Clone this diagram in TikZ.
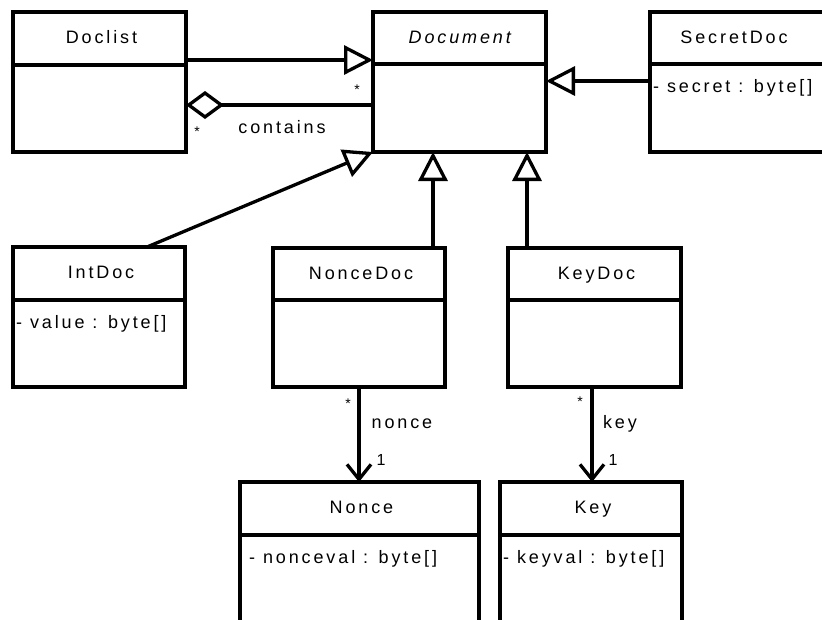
\documentclass[tikz,border=0pt]{standalone}
\usepackage{fontspec}
\setmainfont{Liberation Sans}[LetterSpace=16]
\usetikzlibrary{arrows.meta}
\tikzset{
  x=1pt, y=-1pt,
  umlline/.style={line width=3.3pt},
  classbox/.style={draw, line width=3.3pt, inner sep=0pt, outer sep=0pt, anchor=north west},
  classtitle/.style={inner sep=0pt, anchor=base, font=\fontsize{18}{21}\selectfont},
  classattr/.style={inner sep=0pt, anchor=base west, font=\fontsize{18}{21}\selectfont},
  mult/.style={inner sep=0pt, font=\fontsize{14}{16}\selectfont},
  rolelabel/.style={inner sep=0pt, font=\fontsize{18}{21}\selectfont},
  inherit/.style={umlline, -{Triangle[open, length=29pt, width=29pt, line width=3.3pt]}},
  navig/.style={umlline, -{Straight Barb[length=15pt, width=24pt, line width=3.3pt]}},
  aggr/.style={umlline, {Diamond[open, length=38pt, width=28pt, line width=3.3pt]}-},
}
% \umlclass{name}{x1}{y1}{x2}{y2}{divider y}{title}{attribute}
\newcommand{\umlclass}[8]{%
  \node[classbox, minimum width=#4pt-#2pt, minimum height=#5pt-#3pt] (#1) at (#2,#3) {};
  \draw[umlline] (#2,#6) -- (#4,#6);
  \node[classtitle] (#1-title) at ({(#2+#4)/2+2},{(#3+#6)/2+5}) {#7};
  \node[classattr] (#1-attr) at (#2+3,#6+28) {#8};
}
\begin{document}
\begin{tikzpicture}
\useasboundingbox (0,0) rectangle (822,619);
\begin{scope}
\clip (0,0) rectangle (822,619);

\umlclass{doclist}{13}{12}{186}{152}{65}{Doclist}{}
\umlclass{document}{373}{12}{546}{152}{64}{\textit{Document}}{}
\umlclass{secretdoc}{650}{12}{840}{152}{64}{\hspace*{-26pt}SecretDoc}{- secret : byte[]}
\umlclass{intdoc}{13}{247}{185}{387}{300}{IntDoc}{- value : byte[]}
\umlclass{noncedoc}{273}{248}{445}{387}{300}{NonceDoc}{}
\umlclass{keydoc}{508}{248}{681}{387}{300}{KeyDoc}{}
\umlclass{nonce}{240}{482}{479}{680}{535}{Nonce}{\hspace*{6pt}- nonceval : byte[]}
\umlclass{key}{500}{482}{682}{680}{535}{Key}{- keyval : byte[]}

% generalisations
\draw[inherit] (doclist.north east |- 0,60) -- (document.west |- 0,60);
\draw[inherit] (secretdoc.west |- 0,81) -- (document.east |- 0,81);
\draw[inherit] (intdoc.north west -| 147,0) -- (document.south west);
\draw[inherit] (noncedoc.north west -| 433,0) -- (document.south west -| 433,0);
\draw[inherit] (keydoc.north west -| 527,0) -- (document.south west -| 527,0);

% aggregation
\draw[aggr] (doclist.east |- 0,105) -- (document.west |- 0,105);
\node[mult] (m1) at (357,90) {*};
\node[mult] (m2) at (197,132) {*};
\node[rolelabel] (contains) at (282,127) {contains};

% navigable associations
\draw[navig] (noncedoc.south west -| 359,0) -- (nonce.north west -| 359,0);
\draw[navig] (keydoc.south west -| 592,0) -- (key.north west -| 592,0);
\node[mult] (m3) at (348,404) {*};
\node[rolelabel] (noncelbl) at (402,424) {nonce};
\node[rolelabel, font=\fontsize{16}{19}\selectfont] (one1) at (381,460) {1};
\node[mult] (m4) at (580,402) {*};
\node[rolelabel] (keylbl) at (620,424) {key};
\node[rolelabel, font=\fontsize{16}{19}\selectfont] (one2) at (613,460) {1};
\end{scope}
\end{tikzpicture}
\end{document}
